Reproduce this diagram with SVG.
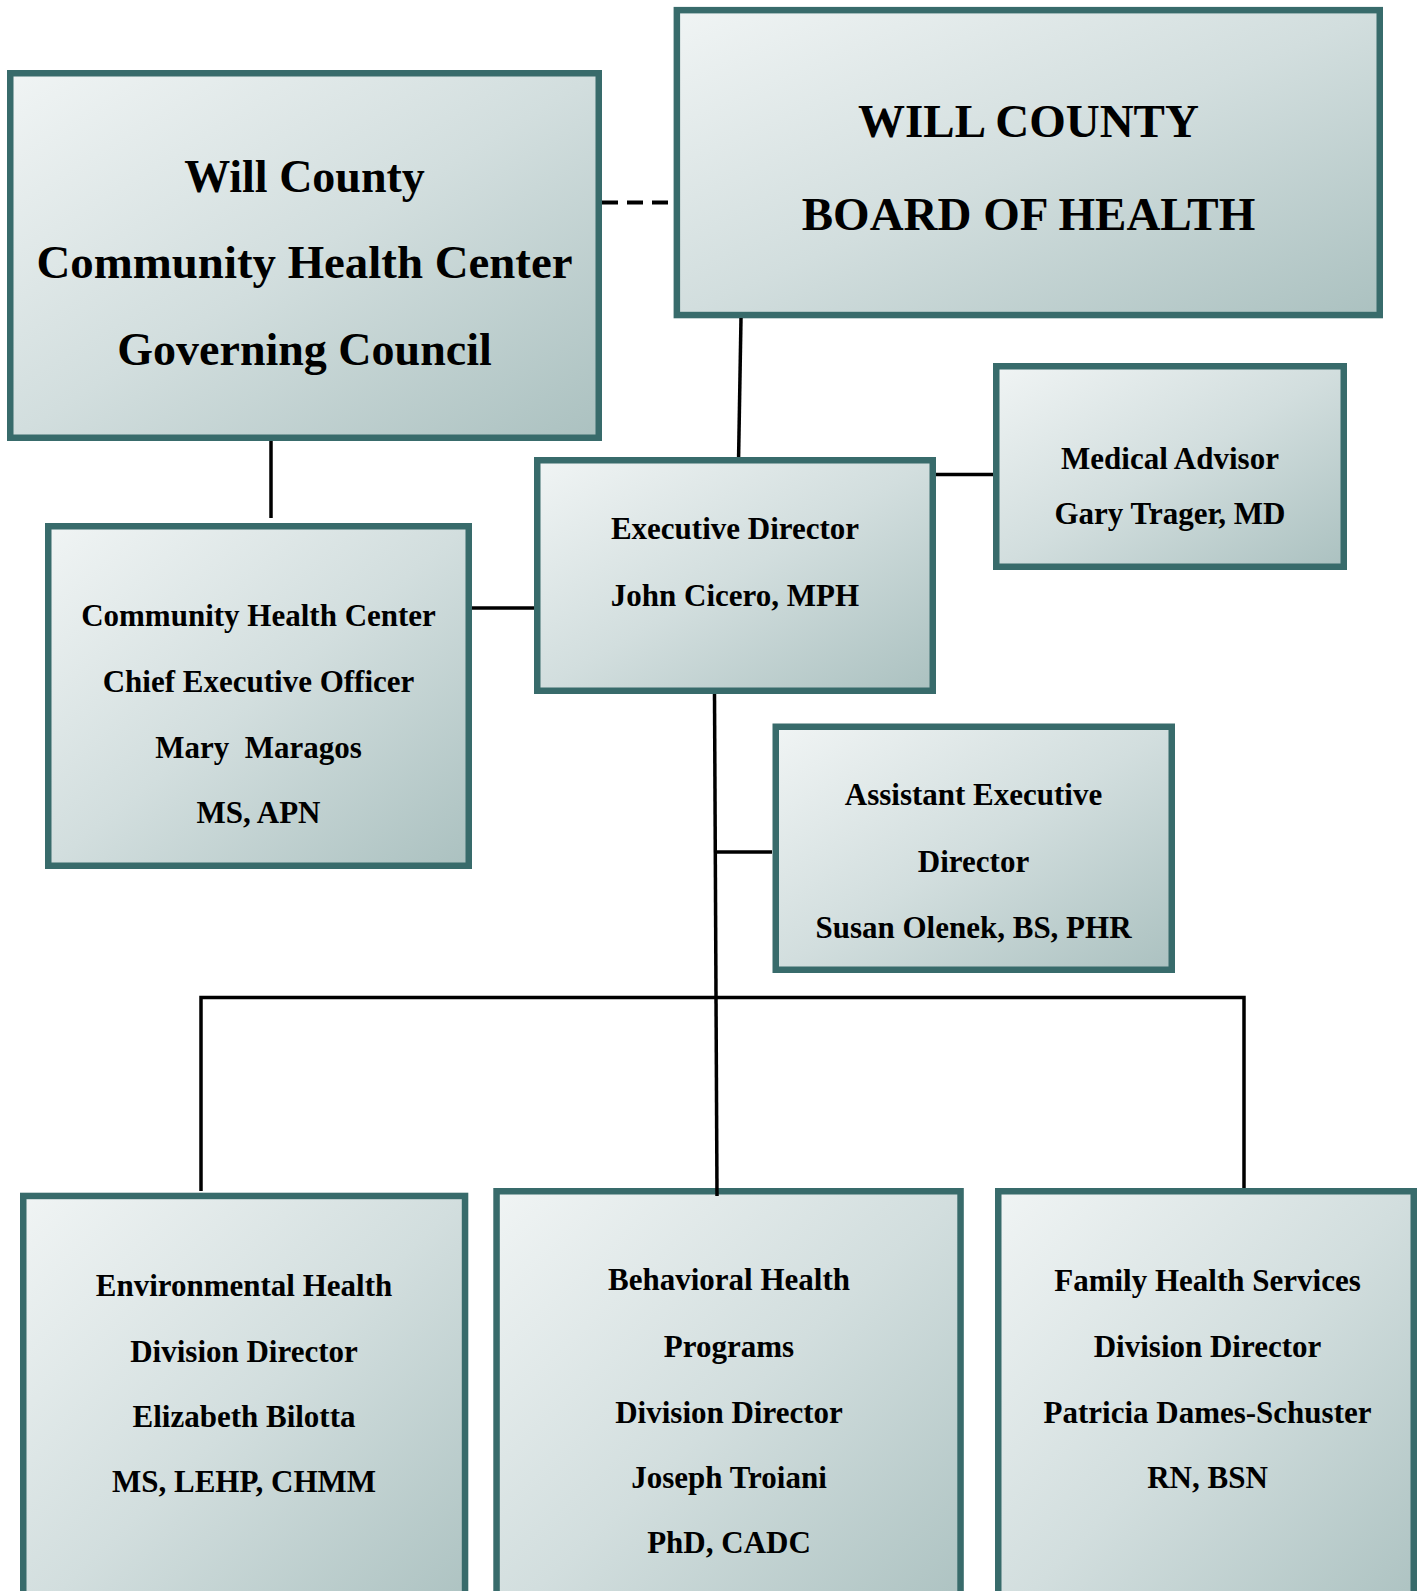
<svg xmlns="http://www.w3.org/2000/svg" width="1422" height="1591" viewBox="0 0 1422 1591">
<defs>
<linearGradient id="g" x1="0" y1="0" x2="1" y2="1">
<stop offset="0" stop-color="#f0f4f4"/>
<stop offset="0.5" stop-color="#d2dede"/>
<stop offset="1" stop-color="#abc1c0"/>
</linearGradient>
<style>
.box{fill:url(#g);stroke:#386b6b;stroke-width:6.5}
.t{font-family:"Liberation Serif","Times New Roman",serif;font-weight:bold;fill:#000;text-anchor:middle}
.big{font-size:46px}
.hd{font-size:47px}
.m{font-size:31px}
.ln{stroke:#000;stroke-width:3.5;fill:none}
.dash{stroke:#000;stroke-width:4;fill:none;stroke-dasharray:16 9}
</style>
</defs>
<rect width="1422" height="1591" fill="#fff"/>
<g id="governing-council">
<rect class="box" x="10.25" y="73.25" width="588.5" height="364.5"/>
<text class="t big" x="304.5" y="192">Will County</text>
<text class="t big" x="304.5" y="278" textLength="536" lengthAdjust="spacingAndGlyphs">Community Health Center</text>
<text class="t big" x="304.5" y="365">Governing Council</text>
</g>
<g id="board-of-health">
<rect class="box" x="676.85" y="10.15" width="702.9" height="304.9"/>
<text class="t hd" x="1028.5" y="137">WILL COUNTY</text>
<text class="t hd" x="1028.5" y="229.5">BOARD OF HEALTH</text>
</g>
<g id="medical-advisor">
<rect class="box" x="996.25" y="366.25" width="347.5" height="200.5"/>
<text class="t m" x="1170" y="468.5">Medical Advisor</text>
<text class="t m" x="1170" y="524">Gary Trager, MD</text>
</g>
<g id="executive-director">
<rect class="box" x="537.25" y="460.25" width="395.5" height="230.5"/>
<text class="t m" x="735" y="539">Executive Director</text>
<text class="t m" x="735" y="605.5">John Cicero, MPH</text>
</g>
<g id="chc-ceo">
<rect class="box" x="48.25" y="526.25" width="420.5" height="339.5"/>
<text class="t m" x="258.5" y="626">Community Health Center</text>
<text class="t m" x="258.5" y="692">Chief Executive Officer</text>
<text class="t m" x="258.5" y="757.5" xml:space="preserve">Mary  Maragos</text>
<text class="t m" x="258.5" y="823">MS, APN</text>
</g>
<g id="assistant-executive-director">
<rect class="box" x="775.75" y="726.75" width="396" height="243"/>
<text class="t m" x="973.5" y="805">Assistant Executive</text>
<text class="t m" x="973.5" y="871.5">Director</text>
<text class="t m" x="973.5" y="938">Susan Olenek, BS, PHR</text>
</g>
<g id="environmental-health">
<rect class="box" x="23.25" y="1195.95" width="441.8" height="430"/>
<text class="t m" x="244" y="1295.5">Environmental Health</text>
<text class="t m" x="244" y="1361.5">Division Director</text>
<text class="t m" x="244" y="1427">Elizabeth Bilotta</text>
<text class="t m" x="244" y="1492">MS, LEHP, CHMM</text>
</g>
<g id="behavioral-health">
<rect class="box" x="496.55" y="1191.25" width="464" height="435"/>
<text class="t m" x="729" y="1290">Behavioral Health</text>
<text class="t m" x="729" y="1356.5">Programs</text>
<text class="t m" x="729" y="1422.5">Division Director</text>
<text class="t m" x="729" y="1487.5">Joseph Troiani</text>
<text class="t m" x="729" y="1553">PhD, CADC</text>
</g>
<g id="family-health">
<rect class="box" x="998.25" y="1191.25" width="415.5" height="435"/>
<text class="t m" x="1207.5" y="1290.5">Family Health Services</text>
<text class="t m" x="1207.5" y="1356.5">Division Director</text>
<text class="t m" x="1207.5" y="1422.5">Patricia Dames-Schuster</text>
<text class="t m" x="1207.5" y="1487.5">RN, BSN</text>
</g>
<g id="connectors">
<path class="dash" d="M602 202.5H673"/>
<path class="ln" d="M741 318L738.6 457"/>
<path class="ln" d="M271 441V518"/>
<path class="ln" d="M472 608H534"/>
<path class="ln" d="M936 474.5H993"/>
<path class="ln" d="M714.5 694L717 1196"/>
<path class="ln" d="M715.5 852H772"/>
<path class="ln" d="M201 1191V997.5H1244V1188"/>
</g>
</svg>
